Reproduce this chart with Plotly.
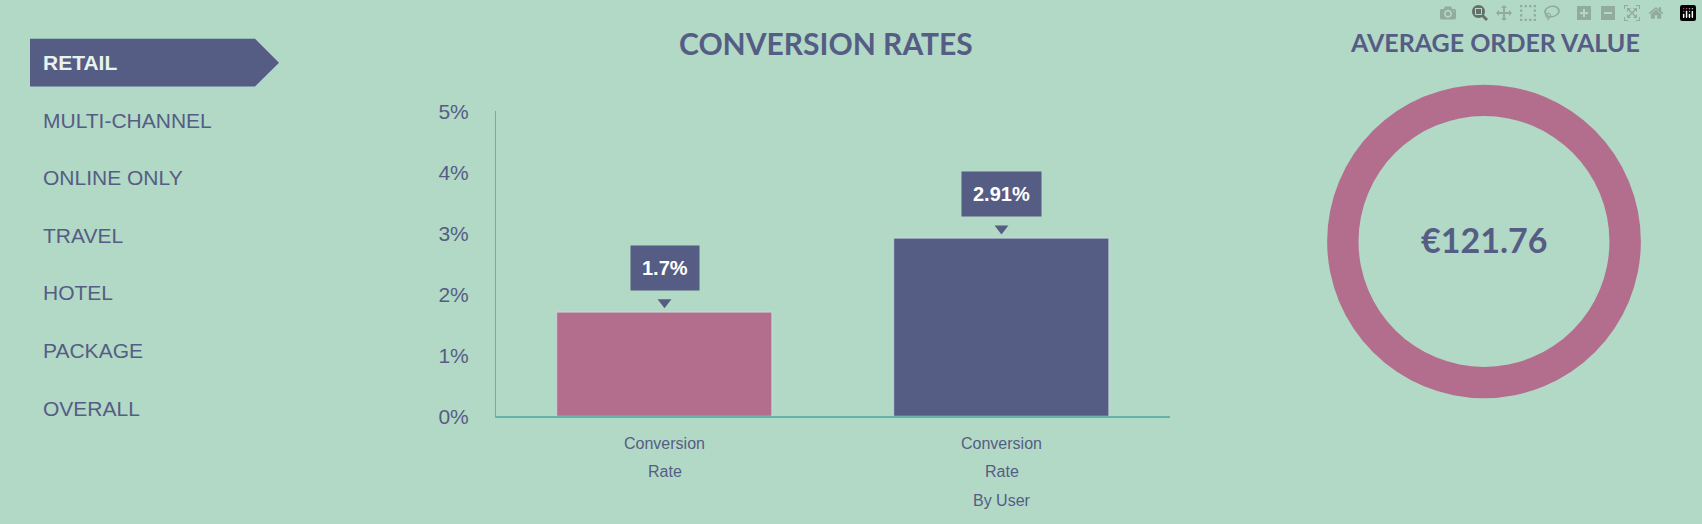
import plotly.graph_objects as go

W, H = 1702, 524
BG = "#b2d8c6"; NAVY = "#555d84"; PINK = "#b36e8d"; TEAL = "#63b3a9"

categories = ["Conversion Rate", "Conversion Rate By User"]
cat_lines = [["Conversion", "Rate"], ["Conversion", "Rate", "By User"]]
values = [1.7, 2.91]
value_labels = ["1.7%", "2.91%"]
bar_colors = [PINK, NAVY]
tick_vals = [0, 1, 2, 3, 4, 5]
tick_text = ["0%", "1%", "2%", "3%", "4%", "5%"]
menu_items = ["RETAIL", "MULTI-CHANNEL", "ONLINE ONLY", "TRAVEL", "HOTEL", "PACKAGE", "OVERALL"]
aov_text = "€121.76"

def px(x): return x / W
def py(y): return 1 - y / H

fig = go.Figure()
fig.add_trace(go.Bar(x=[0, 1], y=values, marker_color=bar_colors, width=0.64,
                     showlegend=False, hoverinfo="skip"))
fig.add_trace(go.Scatter(x=[0, 1], y=[v + 0.17 for v in values], mode="markers", cliponaxis=False,
                         marker=dict(symbol="triangle-down", size=12, color=NAVY),
                         showlegend=False, hoverinfo="skip"))
fig.add_trace(go.Pie(values=[1], marker=dict(colors=[PINK]), hole=0.8, textinfo="none",
                     sort=False, showlegend=False, hoverinfo="skip",
                     domain=dict(x=[px(1320), px(1648)], y=[py(404), py(76)])))

ann = []
for i, (v, lab) in enumerate(zip(values, value_labels)):
    ann.append(dict(x=i, y=v, xref="x", yref="y", text="<b>" + lab + "</b>", showarrow=False,
                    xanchor="center", yanchor="bottom", yshift=22, bgcolor=NAVY, borderpad=11,
                    font=dict(family="Liberation Sans", size=20, color="white")))
for i, lines in enumerate(cat_lines):
    for j, t in enumerate(lines):
        ann.append(dict(x=i, y=py(451 + 30 * j), xref="x", yref="paper", text=t, showarrow=False,
                        xanchor="center", yanchor="middle",
                        font=dict(family="Liberation Sans", size=16, color=NAVY)))
for k, t in enumerate(menu_items):
    ann.append(dict(x=px(41), y=py(53 + 60.2 * k), xref="paper", yref="paper", xanchor="left",
                    yanchor="middle",
                    text=("<b>" + t + "</b>") if k == 0 else t, showarrow=False,
                    font=dict(family="Liberation Sans", size=21,
                              color="#e8f2ee" if k == 0 else NAVY)))
ann.append(dict(x=px(826), y=py(32), xref="paper", yref="paper", showarrow=False,
                xanchor="center", yanchor="middle", text="<b>CONVERSION RATES</b>",
                font=dict(family="Lato", size=30, color=NAVY)))
ann.append(dict(x=px(1495), y=py(31), xref="paper", yref="paper", showarrow=False,
                xanchor="center", yanchor="middle", text="<b>AVERAGE ORDER VALUE</b>",
                font=dict(family="Lato", size=25, color=NAVY)))
ann.append(dict(x=px(1484), y=py(238), xref="paper", yref="paper", showarrow=False,
                xanchor="center", yanchor="middle", text="<b>" + aov_text + "</b>",
                font=dict(family="Lato", size=34, color=NAVY)))

shapes = [dict(type="path", xref="paper", yref="paper", fillcolor=NAVY, line=dict(width=0),
               path=f"M {px(30)} {py(28)} L {px(255)} {py(28)} L {px(279)} {py(53)} "
                    f"L {px(255)} {py(78)} L {px(30)} {py(78)} Z")]

fig.update_layout(
    width=W, height=H, margin=dict(l=0, r=0, t=0, b=0),
    paper_bgcolor=BG, plot_bgcolor=BG, bargap=0,
    xaxis=dict(domain=[px(496), px(1170)], range=[-0.5, 1.5], showticklabels=False,
               showgrid=False, zeroline=False, showline=True, linecolor=TEAL, linewidth=2),
    yaxis=dict(domain=[py(423), py(104)], range=[0, 5], tickvals=tick_vals, ticktext=tick_text,
               showgrid=False, zeroline=False, showline=True, linecolor=TEAL, linewidth=1,
               ticks="", ticklabelstandoff=22,
               tickfont=dict(family="Liberation Sans", size=21, color=NAVY)),
    annotations=ann, shapes=shapes,
)
fig.write_html("out.html")
with open("out.html", encoding="utf-8") as f:
    html = f.read()
html = html.replace("<body>", '<body style="margin:0;background:#b2d8c6">', 1)
with open("out.html", "w", encoding="utf-8") as f:
    f.write(html)
